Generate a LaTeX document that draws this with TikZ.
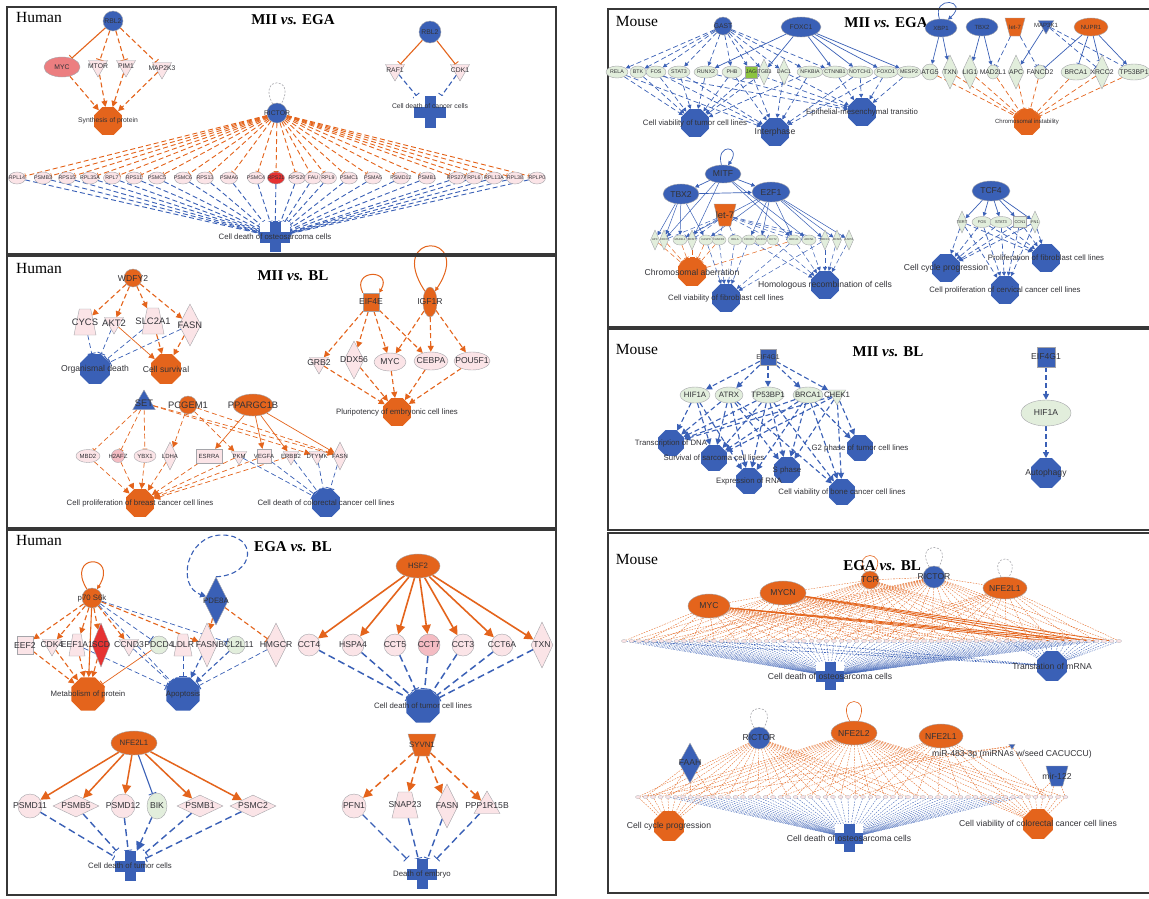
\documentclass[tikz,border=0pt]{standalone}
\usepackage{fontspec}
\setmainfont{Liberation Sans}
\newfontfamily\serifttl{Liberation Serif}
\usetikzlibrary{shapes.geometric,shapes.misc,arrows.meta}
\definecolor{cor}{RGB}{228,100,28}
\definecolor{cbl}{RGB}{58,96,182}
\definecolor{cpk}{RGB}{251,228,231}
\definecolor{cpk2}{RGB}{244,188,195}
\definecolor{cgr}{RGB}{226,238,220}
\definecolor{cgrn}{RGB}{140,196,64}
\definecolor{crd}{RGB}{230,50,50}
\definecolor{csa}{RGB}{236,126,128}
\definecolor{ctx}{RGB}{50,50,55}
\definecolor{cfr}{RGB}{55,55,55}
\definecolor{cgy}{RGB}{165,165,170}
\newcommand\fsA{\fontsize{4}{4.8}\selectfont}
\newcommand\fsB{\fontsize{5.3}{6.3}\selectfont}
\newcommand\fsC{\fontsize{6}{7}\selectfont}
\newcommand\fsD{\fontsize{6.8}{8}\selectfont}
\newcommand\fsE{\fontsize{7.8}{9}\selectfont}
\newcommand\fsF{\fontsize{8.6}{10}\selectfont}
\newcommand\fsG{\fontsize{9.4}{11}\selectfont}
\newcommand\edg[3]{\draw[#1] (#2) -- (#3);}
\newcommand\fanout[3]{\foreach \q in {#3}{\draw[#1] (#2) -- (\q);}}
\newcommand\fanin[3]{\foreach \q in {#3}{\draw[#1] (\q) -- (#2);}}
\pgfdeclarelayer{back}
\pgfdeclarelayer{bg}
\pgfsetlayers{back,bg,main}
\tikzset{
 gn/.style={draw=cgy, line width=0.4pt, inner sep=0pt, text=ctx},
 lbl/.style={font=\fsE, text=ctx, inner sep=0pt},
 lab/.style={label={[lbl]center:#1}},
 labu/.style={label={[lbl,yshift=6pt]center:#1}},
 el/.style args={#1x#2}{ellipse, minimum width=#1, minimum height=#2},
 rc/.style args={#1x#2}{rectangle, minimum width=#1, minimum height=#2},
 dm/.style args={#1x#2}{diamond, minimum width=#1, minimum height=#2},
 tz/.style args={#1x#2}{trapezium, trapezium stretches=true, inner sep=1pt, trapezium left angle=65, trapezium right angle=65, minimum width=#1, minimum height=#2},
 tzi/.style args={#1x#2}{tz=#1x#2, shape border rotate=180},
 ci/.style={circle, minimum size=#1},
 tdn/.style={regular polygon, regular polygon sides=3, shape border rotate=180, minimum size=#1},
 tup/.style={regular polygon, regular polygon sides=3, minimum size=#1},
 octo/.style={regular polygon, regular polygon sides=8, minimum size=#1, inner sep=0pt, fill=cor},
 octb/.style={regular polygon, regular polygon sides=8, minimum size=#1, inner sep=0pt, fill=cbl},
 plusb/.style={minimum width=#1, minimum height=#1, inner sep=0pt, fill=white,
   path picture={\fill[cbl] ([xshift=-5.5pt]path picture bounding box.north) rectangle ([xshift=5.5pt]path picture bounding box.south);
                 \fill[cbl] ([yshift=5.5pt]path picture bounding box.west) rectangle ([yshift=-5.5pt]path picture bounding box.east);}},
 hd/.style={font=\serifttl\fontsize{15.5}{18}\selectfont, text=black, inner sep=0pt},
 tt/.style={font=\serifttl\bfseries\fontsize{15}{18}\selectfont, text=black, inner sep=0pt},
 frm/.style={draw=cfr, line width=1.3pt},
 eo/.style={draw=cor, line width=1.1pt},
 eb/.style={draw=cbl, line width=1.1pt},
 ds/.style={dash pattern=on 5pt off 3pt},
 dsl/.style={dash pattern=on 7pt off 4pt},
 ah/.style={-{Triangle[length=6pt,width=6pt]}},
 ahs/.style={-{Triangle[length=4pt,width=4pt]}},
 ahl/.style={-{Triangle[length=9pt,width=9pt]}},
 ih/.style={-{Bar[width=8pt,line width=0.9pt]}},
 ihs/.style={-{Bar[width=5pt,line width=0.6pt]}},
 th/.style={line width=0.7pt},
 ot/.style={draw=cor, line width=0.35pt, dash pattern=on 1.6pt off 1.2pt},
 bt/.style={draw=cbl, line width=0.35pt, dash pattern=on 1.6pt off 1.2pt},
 gl/.style={draw=cgy, line width=0.6pt, dash pattern=on 2pt off 1.5pt},
}
\begin{document}
\begin{tikzpicture}[x=1pt,y=-1pt]
\useasboundingbox (0,0) rectangle (1149,898);
\begin{pgfonlayer}{back}\fill[white] (0,0) rectangle (1149,898);\end{pgfonlayer}
% frames
\draw[frm] (7,7) rectangle (556,254);
\draw[frm] (7,256) rectangle (556,528);
\draw[frm] (7,530) rectangle (556,895);
\draw[frm] (1149,9) -- (608,9) -- (608,327) -- (1149,327);
\draw[frm] (1149,329) -- (608,329) -- (608,530) -- (1149,530);
\draw[frm] (1149,533) -- (608,533) -- (608,893) -- (1149,893);

%%%%%%%% L1
\node[hd] (hum1) at (39,17) {Human};
\node[tt] (ti1) at (293,20) {MII \textit{vs.} EGA};
\node[gn,ci=20,fill=cbl,lab={\fsD RBL2}] (rbl2a) at (113,21) {};
\node[gn,el=36x20,fill=csa,lab={\fsD MYC}] (myc1) at (62,67) {};
\node[gn,tdn=22,fill=cpk,lab={\fsD MTOR}] (mtor1) at (98,66) {};
\node[gn,tdn=22,fill=cpk,lab={\fsD PIM1}] (pim1) at (126,66) {};
\node[gn,tdn=22,fill=cpk,lab={\fsD MAP2K3}] (map2k3) at (162,68) {};
\node[octo=30,lab={\fsD Synthesis of protein}] (syn1) at (108,121) {};
\node[gn,ci=22,fill=cbl,lab={\fsD RBL2}] (rbl2b) at (430,32) {};
\node[gn,tdn=22,fill=cpk,lab={\fsD RAF1}] (raf1) at (395,70) {};
\node[gn,tdn=22,fill=cpk,lab={\fsD CDK1}] (cdk1) at (460,70) {};
\node[plusb=32,labu={\fsD Cell death of cancer cells}] (cdc1) at (430,112) {};
\node[gn,ci=20,fill=cbl,lab={\fsD RICTOR}] (rict1) at (277,113) {};
\foreach \n/\x/\c [count=\i] in {RPL14/17/cpk,PSMB3/43/cpk,RPS15/67/cpk,RPL35A/90/cpk,RPL7/112/cpk,RPS11/134/cpk,PSMC5/157/cpk,PSMC6/183/cpk,RPS13/205/cpk,PSMA6/229/cpk,PSMC4/256/cpk,RPS21/276/crd,RPS29/297/cpk,FAU/313/cpk,RPL9/328/cpk,PSMC1/349/cpk,PSMA5/373/cpk,PSMD12/401/cpk,PSMB1/427/cpk,RPS27A/457/cpk,RPL6/474/cpk,RPL13A/494/cpk,RPL38/515/cpk,RPLP0/537/cpk}
 {\node[gn,el=17x12,fill=\c,lab={\fsB\n}] (r\i) at (\x,178) {};}
\node[plusb=30,lab={\fsE Cell death of osteosarcoma cells}] (osteo1) at (275,237) {};

%%%%%%%% L2
\node[hd] (hum2) at (39,268) {Human};
\node[tt] (ti2) at (293,276) {MII \textit{vs.} BL};
\node[gn,ci=18,fill=cor,lab={\fsF WDFY2}] (wdfy2) at (133,278) {};
\node[gn,tz=22x26,fill=cpk,lab={\fsG CYCS}] (cycs) at (85,322) {};
\node[gn,tdn=22,fill=cpk,lab={\fsG AKT2}] (akt2) at (114,323) {};
\node[gn,tz=22x26,fill=cpk,lab={\fsG SLC2A1}] (slc2a1) at (153,321) {};
\node[gn,dm=22x42,fill=cpk,lab={\fsG FASN}] (fasn2) at (190,325) {};
\node[octb=32,lab={\fsF Organismal death}] (orgd) at (95,369) {};
\node[octo=32,lab={\fsF Cell survival}] (csurv) at (166,369) {};
\node[gn,rc=16x18,fill=cor,lab={\fsF EIF4E}] (eif4e) at (371,302) {};
\node[gn,el=14x30,fill=cor,lab={\fsF IGF1R}] (igf1r) at (430,302) {};
\node[gn,tdn=22,fill=cpk,lab={\fsF GRB2}] (grb2) at (319,363) {};
\node[gn,dm=20x38,fill=cpk,lab={\fsF DDX56}] (ddx56) at (354,360) {};
\node[gn,el=32x18,fill=cpk,lab={\fsF MYC}] (myc2) at (390,362) {};
\node[gn,el=34x18,fill=cpk,lab={\fsF CEBPA}] (cebpa) at (431,361) {};
\node[gn,el=36x18,fill=cpk,lab={\fsF POU5F1}] (pou5f1) at (472,361) {};
\node[octo=30,lab={\fsE Pluripotency of embryonic cell lines}] (pluri) at (397,412) {};
\node[gn,tup=26,fill=cbl,lab={\fsG SET}] (set2) at (144,403) {};
\node[gn,ci=18,fill=cor,lab={\fsG PCGEM1}] (pcgem1) at (188,405) {};
\node[gn,el=40x22,fill=cor,lab={\fsG PPARGC1B}] (pparg) at (253,405) {};
\node[gn,el=24x13,fill=cpk,lab={\fsC MBD2}] (mbd2) at (88,456) {};
\node[gn,ci=13,fill=cpk2,lab={\fsC H2AFZ}] (h2afz) at (118,456) {};
\node[gn,el=22x13,fill=cpk,lab={\fsC YBX1}] (ybx1) at (145,456) {};
\node[gn,dm=14x28,fill=cpk,lab={\fsC LDHA}] (ldha) at (170,456) {};
\node[gn,rc=26x14,fill=cpk,lab={\fsC ESRRA}] (esrra) at (209,456) {};
\node[gn,tdn=18,fill=cpk,lab={\fsC PKM}] (pkm) at (239,456) {};
\node[gn,rc=14x14,fill=cpk,lab={\fsC VEGFA}] (vegfa) at (264,456) {};
\node[gn,tdn=18,fill=cpk,lab={\fsC ERBB2}] (erbb2) at (291,456) {};
\node[gn,tdn=18,fill=cpk,lab={\fsC DTYMK}] (dtymk) at (317,456) {};
\node[gn,dm=14x28,fill=cpk,lab={\fsC FASN}] (fasn2b) at (340,456) {};
\node[octo=30,lab={\fsE Cell proliferation of breast cancer cell lines}] (cpb) at (140,503) {};
\node[octb=30,lab={\fsE Cell death of colorectal cancer cell lines}] (cdcol) at (326,503) {};

%%%%%%%% L3
\node[hd] (hum3) at (39,540) {Human};
\node[tt] (ti3) at (293,547) {EGA \textit{vs.} BL};
\node[gn,ci=20,fill=cor,lab={\fsE p70 S6k}] (p70) at (92,598) {};
\node[gn,dm=24x48,fill=cbl,lab={\fsE PDE8A}] (pde8a) at (216,601) {};
\coordinate (pdtop) at (222,535);
\node[gn,rc=16x18,fill=cpk,lab={\fsF EEF2}] (eef2) at (25,645) {};
\node[gn,tdn=22,fill=cpk,lab={\fsF CDK4}] (cdk4) at (52,645) {};
\node[gn,tz=16x22,fill=cpk,lab={\fsF EEF1A1}] (eef1a1) at (77,645) {};
\node[gn,dm=18x44,fill=crd,lab={\fsF SCD}] (scd) at (101,645) {};
\node[gn,tdn=22,fill=cpk,lab={\fsF CCND3}] (ccnd3) at (129,645) {};
\node[gn,ci=18,fill=cgr,lab={\fsF PDCD4}] (pdcd4) at (159,645) {};
\node[gn,tz=18x22,fill=cpk,lab={\fsF LDLR}] (ldlr) at (183,645) {};
\node[gn,dm=20x44,fill=cpk,lab={\fsF FASN}] (fasn3) at (207,645) {};
\node[gn,ci=18,fill=cgr,lab={\fsF BCL2L11}] (bcl2l11) at (236,645) {};
\node[gn,dm=22x44,fill=cpk,lab={\fsF HMGCR}] (hmgcr) at (276,645) {};
\node[octo=36,lab={\fsE Metabolism of protein}] (metab) at (88,694) {};
\node[octb=36,lab={\fsE Apoptosis}] (apop) at (183,694) {};
\node[gn,el=44x24,fill=cor,lab={\fsE HSF2}] (hsf2) at (418,566) {};
\node[gn,ci=22,fill=cpk,lab={\fsF CCT4}] (cct4) at (309,645) {};
\node[gn,ci=22,fill=cpk,lab={\fsF HSPA4}] (hspa4) at (353,645) {};
\node[gn,ci=22,fill=cpk,lab={\fsF CCT5}] (cct5) at (395,645) {};
\node[gn,ci=22,fill=cpk2,lab={\fsF CCT7}] (cct7) at (429,645) {};
\node[gn,ci=22,fill=cpk,lab={\fsF CCT3}] (cct3) at (463,645) {};
\node[gn,ci=22,fill=cpk,lab={\fsF CCT6A}] (cct6a) at (502,645) {};
\node[gn,dm=22x46,fill=cpk,lab={\fsF TXN}] (txn3) at (542,645) {};
\node[octb=36,lab={\fsE Cell death of tumor cell lines}] (cdtl) at (423,706) {};
\node[gn,el=46x24,fill=cor,lab={\fsE NFE2L1}] (nfe2l1) at (134,743) {};
\node[gn,ci=24,fill=cpk,lab={\fsF PSMD11}] (psmd11) at (30,806) {};
\node[gn,dm=46x22,fill=cpk,lab={\fsF PSMB5}] (psmb5) at (76,806) {};
\node[gn,ci=24,fill=cpk,lab={\fsF PSMD12}] (psmd12) at (123,806) {};
\node[gn,el=20x26,fill=cgr,lab={\fsF BIK}] (bik) at (157,806) {};
\node[gn,dm=46x22,fill=cpk,lab={\fsF PSMB1}] (psmb1) at (200,806) {};
\node[gn,dm=46x22,fill=cpk,lab={\fsF PSMC2}] (psmc2) at (253,806) {};
\node[plusb=30,lab={\fsE Cell death of tumor cells}] (cdtc) at (130,866) {};
\node[gn,tzi=28x22,fill=cor,lab={\fsE SYVN1}] (syvn1) at (422,745) {};
\node[gn,ci=24,fill=cpk,lab={\fsF PFN1}] (pfn1) at (354,806) {};
\node[gn,tz=26x26,fill=cpk,lab={\fsF SNAP23}] (snap23) at (405,805) {};
\node[gn,dm=22x44,fill=cpk,lab={\fsF FASN}] (fasn4) at (447,806) {};
\node[gn,tup=30,fill=cpk,lab={\fsF PPP1R15B}] (ppp1r15b) at (487,806) {};
\node[plusb=30,lab={\fsE Death of embryo}] (death) at (422,874) {};

%%%%%%%% R1
\node[hd] (hum4) at (637,21) {Mouse};
\node[tt] (ti4) at (886,23) {MII \textit{vs.} EGA};
\node[gn,ci=18,fill=cbl,lab={\fsD GAST}] (gast) at (723,26) {};
\node[gn,el=40x20,fill=cbl,lab={\fsD FOXC1}] (foxc1) at (801,27) {};
\foreach \n/\x/\s/\w/\h/\c [count=\i] in {RELA/617/ellipse/22/12/cgr,BTK/638/ellipse/16/12/cgr,FOS/656/ellipse/20/12/cgr,STAT3/679/ellipse/22/12/cgr,RUNX2/706/ellipse/24/12/cgr,PHB/732/ellipse/20/12/cgr,JAG/751/rectangle/12/12/cgrn,ITGB3/764/diamond/12/26/cgr,DAC1/784/diamond/12/26/cgr,NFKBIA/810/ellipse/26/12/cgr,CTNNB1/835/ellipse/26/12/cgr,NOTCH1/860/ellipse/26/12/cgr,FOXO1/886/ellipse/24/12/cgr,MESP2/909/ellipse/24/12/cgr}
 {\node[gn,shape=\s,minimum width=\w,minimum height=\h,fill=\c,lab={\fsB\n}] (k\i) at (\x,72) {};}
\node[octb=30,lab={\fsE Cell viability of tumor cell lines}] (cvt) at (695,123) {};
\node[octb=30,lab={\fsF Interphase}] (interph) at (775,132) {};
\node[octb=30,lab={\fsE Epithelial-mesenchymal transitio}] (emt) at (862,112) {};
\node[gn,el=32x18,fill=cbl,lab={\fsC XBP1}] (xbp1) at (941,28) {};
\node[gn,el=32x18,fill=cbl,lab={\fsC TBX2}] (tbx2a) at (982,27) {};
\node[gn,tzi=20x18,fill=cor,lab={\fsC let-7}] (let7a) at (1015,27) {};
\node[gn,tdn=18,fill=cbl,lab={\fsC MAP3K1}] (map3k1) at (1046,25) {};
\node[gn,el=34x18,fill=cor,lab={\fsC NUPR1}] (nupr1) at (1091,27) {};
\foreach \n/\x/\s/\w/\h [count=\i] in {ATG5/930/circle/16/16,TXN/950/diamond/16/34,LIG1/970/diamond/16/34,MAD2L1/993/ellipse/12/14,APC/1016/diamond/16/34,FANCD2/1040/ellipse/12/14,BRCA1/1076/ellipse/30/16,XRCC2/1102/diamond/16/34,TP53BP1/1134/ellipse/32/16}
 {\node[gn,shape=\s,minimum width=\w,minimum height=\h,fill=cgr,lab={\fsD\n}] (j\i) at (\x,72) {};}
\node[octo=28,lab={\fsC Chromosomal instability}] (chrinst) at (1027,122) {};
% R1 lower
\node[gn,el=36x18,fill=cbl,lab={\fsF MITF}] (mitf) at (723,174) {};
\node[gn,el=36x20,fill=cbl,lab={\fsF TBX2}] (tbx2b) at (681,194) {};
\node[gn,el=38x20,fill=cbl,lab={\fsF E2F1}] (e2f1) at (771,192) {};
\node[gn,tzi=22x22,fill=cor,lab={\fsG let-7}] (let7b) at (725,215) {};
\foreach \n/\x/\s/\w/\h [count=\i] in {APC/655/diamond/9/20,CDC6/664/diamond/9/20,MAD2L1/680/ellipse/14/10,MCM7/692/diamond/9/20,CASP8/706/ellipse/14/10,FANCD2/719/ellipse/14/10,RELA/735/ellipse/14/10,FOXO3/749/ellipse/14/10,FANCG/761/ellipse/12/10,ECT2/773/ellipse/12/10,BRCA1/794/ellipse/14/10,ARCN1/809/ellipse/14/10,XRCC2/825/diamond/9/20,MCM8/837/diamond/9/20,RAD51/849/diamond/9/20}
 {\node[gn,shape=\s,minimum width=\w,minimum height=\h,fill=cgr,lab={\fontsize{2.8}{3}\selectfont\n}] (p\i) at (\x,240) {};}
\node[octo=30,lab={\fsF Chromosomal aberration}] (chrab) at (692,272) {};
\node[octb=30,lab={\fsE Cell viability of fibroblast cell lines}] (cvf) at (726,298) {};
\node[octb=30,lab={\fsF Homologous recombination of cells}] (homr) at (825,285) {};
\node[gn,el=38x20,fill=cbl,lab={\fsF TCF4}] (tcf4) at (991,191) {};
\foreach \n/\x/\s/\w/\h/\c [count=\i] in {TERT/962/diamond/10/22/cgr,FOS/982/ellipse/20/11/cgr,STAT3/1001/ellipse/22/11/cgr,CCN1/1020/rectangle/13/11/cgr,FN1/1035/diamond/10/22/cgr}
 {\node[gn,shape=\s,minimum width=\w,minimum height=\h,fill=\c,lab={\fsA\n}] (q\i) at (\x,222) {};}
\node[octb=30,lab={\fsF Cell cycle progression}] (ccp) at (946,268) {};
\node[octb=30,lab={\fsE Proliferation of fibroblast cell lines}] (pfib) at (1046,258) {};
\node[octb=30,lab={\fsE Cell proliferation of cervical cancer cell lines}] (cpcc) at (1005,290) {};

%%%%%%%% R2
\node[hd] (hum5) at (637,349) {Mouse};
\node[tt] (ti5) at (888,352) {MII \textit{vs.} BL};
\node[gn,chamfered rectangle,chamfered rectangle xsep=3pt,minimum width=16,minimum height=16,fill=cbl,lab={\fsD EIF4G1}] (eif4g1) at (768,357) {};
\node[gn,el=30x16,fill=cgr,lab={\fsE HIF1A}] (hif1a) at (695,395) {};
\node[gn,el=28x16,fill=cgr,lab={\fsE ATRX}] (atrx) at (729,395) {};
\node[gn,el=32x16,fill=cgr,lab={\fsE TP53BP1}] (tp53bp1b) at (768,395) {};
\node[gn,el=30x16,fill=cgr,lab={\fsE BRCA1}] (brca1b) at (808,395) {};
\node[gn,tdn=20,fill=cgr,lab={\fsE CHEK1}] (chek1) at (837,395) {};
\node[octb=28,lab={\fsE Transcription of DNA}] (tdna) at (671,443) {};
\node[octb=28,lab={\fsE Survival of sarcoma cell lines}] (ssarc) at (714,458) {};
\node[octb=28,lab={\fsE S phase}] (sph) at (787,470) {};
\node[octb=28,lab={\fsE G2 phase of tumor cell lines}] (g2) at (860,448) {};
\node[octb=28,lab={\fsE Expression of RNA}] (erna) at (749,481) {};
\node[octb=28,lab={\fsE Cell viability of bone cancer cell lines}] (cvbc) at (842,492) {};
\node[gn,chamfered rectangle,chamfered rectangle xsep=3pt,minimum width=18,minimum height=20,fill=cbl,lab={\fsF EIF4G1}] (eif4g1b) at (1046,357) {};
\node[gn,el=50x26,fill=cgr,lab={\fsF HIF1A}] (hif1ab) at (1046,413) {};
\node[octb=32,lab={\fsF Autophagy}] (autoph) at (1046,473) {};

%%%%%%%% R3
\node[hd] (hum6) at (637,559) {Mouse};
\node[tt] (ti6) at (882,566) {EGA \textit{vs.} BL};
\node[gn,el=42x24,fill=cor,lab={\fsF MYC}] (myc3) at (709,606) {};
\node[gn,el=46x24,fill=cor,lab={\fsF MYCN}] (mycn) at (783,593) {};
\node[gn,ci=18,fill=cor,lab={\fsF TCR}] (tcr) at (870,580) {};
\node[gn,ci=22,fill=cbl,lab={\fsF RICTOR}] (rictor3) at (934,577) {};
\node[gn,el=44x22,fill=cor,lab={\fsF NFE2L1}] (nfe2l1b) at (1005,588) {};
\foreach \i in {1,...,67}{\node[gn,el=5x3,fill=cpk,line width=0.25pt] (m\i) at ({624+7.5*(\i-1)},641) {};}
\node[plusb=28,lab={\fsF Cell death of osteosarcoma cells}] (cdo3) at (830,676) {};
\node[octb=32,lab={\fsF Translation of mRNA}] (trans) at (1052,666) {};
\node[gn,ci=22,fill=cbl,lab={\fsF RICTOR}] (rictor4) at (759,738) {};
\node[gn,el=46x24,fill=cor,lab={\fsF NFE2L2}] (nfe2l2) at (854,733) {};
\node[gn,el=44x24,fill=cor,lab={\fsF NFE2L1}] (nfe2l1c) at (941,736) {};
\node[gn,dm=22x40,fill=cbl,lab={\fsF FAAH}] (faah) at (690,763) {};
\node[gn,tdn=7,fill=cbl,label={[lbl,font=\fsF]below:miR-483-3p (miRNAs w/seed CACUCCU)}] (mir483) at (1012,746) {};
\node[gn,tzi=22x20,fill=cbl,lab={\fsF mir-122}] (mir122) at (1057,776) {};
\foreach \i in {1,...,58}{\node[gn,el=5x3,fill=cpk,line width=0.25pt] (n\i) at ({638+7.5*(\i-1)},797) {};}
\node[octo=32,lab={\fsF Cell cycle progression}] (ccp2) at (669,826) {};
\node[plusb=28,lab={\fsF Cell death of osteosarcoma cells}] (cdo4) at (849,838) {};
\node[octo=32,lab={\fsF Cell viability of colorectal cancer cell lines}] (cvcol) at (1038,824) {};

%%%%%%%%%%%%%%%% EDGES
\begin{pgfonlayer}{bg}
% L1
\edg{eo,ih}{rbl2a}{myc1}
\fanout{eo,ds,ih}{rbl2a}{mtor1,pim1,map2k3}
\fanin{eo,ds,ah}{syn1}{myc1,mtor1,pim1,map2k3}
\fanout{eo,ih}{rbl2b}{raf1,cdk1}
\fanin{eb,ds,ih}{cdc1}{raf1,cdk1}
\draw[gl] (rict1.115) .. controls +(-16,-28) and +(16,-28) .. (rict1.65);
\foreach \i in {1,...,24}{\draw[eo,ds,line width=0.9pt,ihs] (rict1) -- (r\i); \draw[eb,ds,line width=0.9pt,ihs] (r\i) -- (osteo1);}
% L2
\fanout{eo,ds,ah}{wdfy2}{cycs,akt2,slc2a1,fasn2}
\fanin{eb,ds,ih,th}{orgd}{cycs,akt2,slc2a1,fasn2}
\edg{eo,ah,th}{akt2}{csurv}
\fanin{eo,ds,ah}{csurv}{slc2a1,fasn2}
\draw[eo,ahs,line width=1pt] (eif4e.north west) .. controls +(-12,-24) and +(14,-24) .. (eif4e.north east);
\draw[eo,ahs,line width=1pt] (igf1r.115) .. controls +(-40,-60) and +(40,-60) .. (igf1r.65);
\fanout{eo,ds,ah}{eif4e}{grb2,ddx56,myc2,cebpa}
\fanout{eo,ds,ah}{igf1r}{myc2,cebpa,pou5f1}
\fanin{eo,ds,ah}{pluri}{grb2,ddx56,myc2,cebpa,pou5f1}
\fanout{eo,ds,ihs,th}{set2}{mbd2,h2afz,ybx1}
\fanout{eo,ds,ah,th}{set2}{dtymk,fasn2b}
\fanout{eo,ds,ah,th}{pcgem1}{ldha,pkm,fasn2b}
\fanout{eo,ah,th}{pparg}{esrra,vegfa,erbb2,fasn2b}
\fanin{eo,ds,ah,th}{cpb}{mbd2,h2afz,ybx1,ldha,esrra,pkm,vegfa,erbb2}
\fanin{eb,ds,ih,th}{cdcol}{pkm,vegfa,erbb2,dtymk,fasn2b}
% L3
\draw[eo,ahs,line width=1pt] (p70.120) .. controls +(-22,-36) and +(22,-36) .. (p70.60);
\draw[eb,ds,ah] (pde8a.north) .. controls +(40,-2) and +(36,0) .. (pdtop) .. controls +(-36,0) and +(-30,-10) .. (pde8a.155);
\fanout{eo,ds,ah}{p70}{eef2,cdk4,eef1a1,scd,ccnd3,fasn3}
\edg{eo,ah}{p70}{metab}
\fanout{eb,ds,ih,th}{p70}{pdcd4,bcl2l11,apop}
\edg{eo,ds,ah}{pde8a}{fasn3}
\edg{eo,ds,ih}{pde8a}{hmgcr}
\fanin{eo,ds,ah}{metab}{eef2,cdk4,eef1a1,scd}
\edg{eo,ih,th}{pdcd4}{metab}
\fanin{eb,ds,ih,th}{apop}{eef1a1,ccnd3,ldlr,hmgcr}
\fanin{eb,ds,ah}{apop}{fasn3,bcl2l11}
\fanout{eo,ahl,line width=1.6pt}{hsf2}{cct4,hspa4,cct5,cct7,cct3,cct6a,txn3}
\fanin{eb,dsl,ih,line width=1.5pt}{cdtl}{cct4,hspa4,cct5,cct7,cct3,cct6a,txn3}
\fanout{eo,ahl,line width=1.5pt}{nfe2l1}{psmd11,psmb5,psmd12,psmb1,psmc2}
\edg{eb,ih}{nfe2l1}{bik}
\fanin{eb,dsl,ih,line width=1.4pt}{cdtc}{psmd11,psmb5,psmd12,psmb1,psmc2}
\edg{eb,dsl,ahl,line width=1.4pt}{bik}{cdtc}
\fanout{eo,dsl,ahl,line width=1.5pt}{syvn1}{pfn1,snap23,fasn4,ppp1r15b}
\fanin{eb,dsl,ih,line width=1.4pt}{death}{pfn1,snap23,fasn4,ppp1r15b}
% R1
\fanout{eb,ds,ahs,th}{gast}{k1,k2,k3,k4,k5,k6,k7,k8,k9,k10,k11}
\fanout{eb,ahs,th}{foxc1}{k5,k8,k11,k12,k13,k14}
\fanin{eb,ds,ahs,th}{cvt}{k1,k2,k3,k4,k5,k6,k7,k8,k10}
\fanin{eb,ds,ahs,th}{interph}{k1,k3,k4,k6,k7,k9,k10,k12,k13}
\fanin{eb,ds,ahs,th}{emt}{k2,k5,k7,k9,k11,k12,k13,k14}
\draw[eb,ahs,th] (xbp1.100) .. controls +(-8,-24) and +(22,-20) .. (xbp1.50);
\fanout{eb,ahs,th}{xbp1}{j1,j2}
\fanout{eb,ahs,th}{tbx2a}{j3,j4}
\fanout{eb,ds,ihs,th}{let7a}{j4,j6}
\edg{eb,ahs,th}{map3k1}{j5}
\fanout{eb,ds,ihs,th}{map3k1}{j8,j9}
\fanout{eb,ihs,th}{nupr1}{j6,j7,j8}
\edg{eb,ahs,th}{nupr1}{j9}
\fanin{eo,ds,ihs,th}{chrinst}{j1,j2,j3,j4,j5,j6,j7,j8,j9}
\draw[eb,ahs,th] (mitf.100) .. controls +(-6,-22) and +(14,-20) .. (mitf.60);
\fanout{eb,ahs,th}{mitf}{tbx2b,e2f1}
\edg{eb,ahs,th}{tbx2b}{e2f1}
\fanout{eb,ahs,line width=0.5pt}{mitf}{p2,p4,p11,p12}
\fanout{eb,ahs,line width=0.5pt}{tbx2b}{p1,p2,p3,p5}
\fanout{eb,ahs,line width=0.5pt}{e2f1}{p3,p5,p8,p9,p11,p13,p14,p15}
\fanout{eb,ds,ihs,line width=0.5pt}{let7b}{p2,p3,p4,p6,p7,p10,p11,p12,p13}
\fanin{eo,ds,ihs,line width=0.5pt}{chrab}{p1,p2,p3,p4,p5,p6,p11}
\fanin{eb,ds,ahs,line width=0.5pt}{cvf}{p5,p6,p7,p8,p11,p13}
\fanin{eb,ds,ahs,line width=0.5pt}{homr}{p8,p10,p11,p12,p13,p14,p15}
\fanout{eb,ahs,th}{tcf4}{q1,q2,q3,q4,q5}
\fanin{eb,ds,ahs,th}{ccp}{q1,q2,q3,q4,q5}
\fanin{eb,ds,ahs,th}{pfib}{q1,q2,q3,q4,q5}
\fanin{eb,ds,ahs,th}{cpcc}{q1,q2,q3,q4,q5}
% R2
\fanout{eb,ds,ah}{eif4g1}{hif1a,atrx,tp53bp1b,brca1b,chek1}
\fanin{eb,ds,ah}{tdna}{hif1a,atrx,tp53bp1b,brca1b,chek1}
\fanin{eb,ds,ah}{ssarc}{hif1a,atrx,tp53bp1b,brca1b,chek1}
\fanin{eb,ds,ah}{erna}{hif1a,atrx,tp53bp1b,brca1b}
\fanin{eb,ds,ah}{sph}{atrx,tp53bp1b,brca1b,chek1}
\fanin{eb,ds,ah}{cvbc}{atrx,tp53bp1b,brca1b,chek1}
\fanin{eb,ds,ah}{g2}{brca1b,chek1}
\edg{eb,ds,ah,line width=1.4pt}{eif4g1b}{hif1ab}
\edg{eb,ds,ah,line width=1.4pt}{hif1ab}{autoph}
% R3 upper
\draw[cor,line width=0.6pt] (tcr.120) .. controls +(-14,-22) and +(14,-22) .. (tcr.60);
\draw[gl] (rictor3.115) .. controls +(-16,-26) and +(16,-26) .. (rictor3.65);
\draw[gl] (nfe2l1b.110) .. controls +(-14,-24) and +(14,-24) .. (nfe2l1b.70);
\edg{ot}{myc3}{mycn}
\edg{ot}{mycn}{tcr}
\edg{ot}{tcr}{rictor3}
\edg{ot}{rictor3}{nfe2l1b}
\foreach \i in {1,4,...,49}{\draw[ot] (myc3) -- (m\i);}
\foreach \i in {2,5,...,56}{\draw[ot] (mycn) -- (m\i);}
\foreach \i in {8,11,...,62}{\draw[ot] (tcr) -- (m\i);}
\foreach \i in {3,6,...,66}{\draw[ot] (rictor3) -- (m\i);}
\foreach \i in {28,31,...,67}{\draw[ot] (nfe2l1b) -- (m\i);}
\foreach \i in {58,61,64}{\draw[draw=cor,line width=0.8pt] (myc3) -- (m\i);}
\foreach \i in {60,63,66}{\draw[draw=cor,line width=0.8pt] (mycn) -- (m\i);}
\foreach \i in {1,...,64}{\draw[bt] (m\i) -- (cdo3);}
\foreach \i in {52,...,67}{\draw[bt] (m\i) -- (trans);}
\foreach \i in {2,12,22}{\draw[bt,line width=0.6pt] (m\i) -- (trans);}
% R3 lower
\draw[gl] (rictor4.115) .. controls +(-16,-26) and +(16,-26) .. (rictor4.65);
\draw[cor,line width=0.6pt] (nfe2l2.110) .. controls +(-14,-26) and +(14,-26) .. (nfe2l2.70);
\foreach \i in {1,3,...,40}{\draw[ot] (rictor4) -- (n\i);}
\foreach \i in {2,4,...,58}{\draw[ot] (nfe2l2) -- (n\i);}
\foreach \i in {20,23,...,56}{\draw[ot] (nfe2l1c) -- (n\i);}
\foreach \i in {2,5,8,11}{\draw[ot] (faah) -- (n\i);}
\foreach \i in {1,9,30,55}{\draw[ot] (mir483) -- (n\i);}
\foreach \i in {54,56,58}{\draw[ot] (mir122) -- (n\i);}
\foreach \i in {1,...,10}{\draw[ot] (n\i) -- (ccp2);}
\foreach \i in {5,...,52}{\draw[bt] (n\i) -- (cdo4);}
\foreach \i in {46,...,58}{\draw[ot] (n\i) -- (cvcol);}
\end{pgfonlayer}
\end{tikzpicture}
\end{document}
